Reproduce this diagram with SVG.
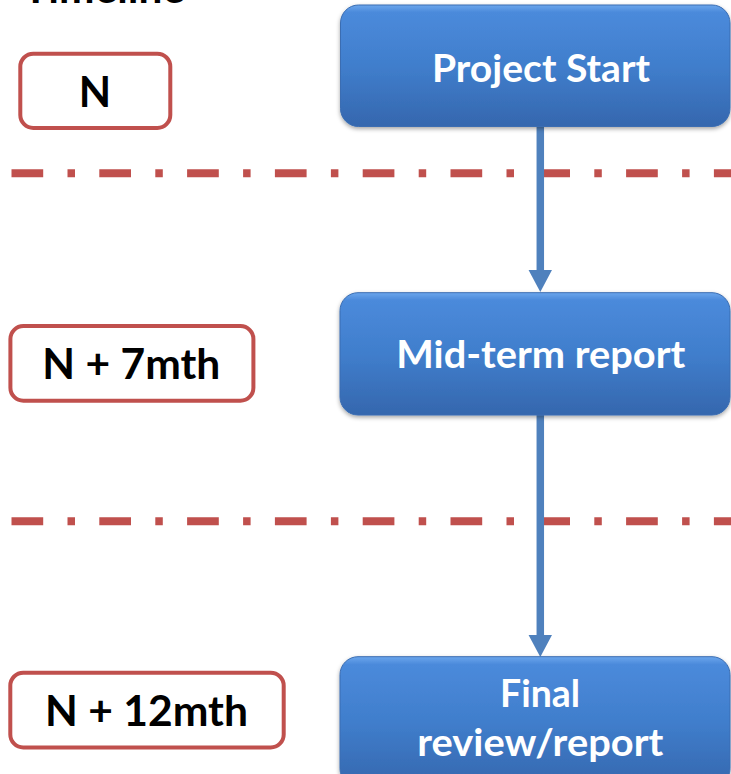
<svg xmlns="http://www.w3.org/2000/svg" width="731" height="774" viewBox="0 0 731 774">
<defs>
<linearGradient id="blueGrad" x1="0" y1="0" x2="0" y2="1">
<stop offset="0" stop-color="#6BA6EC"/>
<stop offset="0.06" stop-color="#4B8ADB"/>
<stop offset="0.5" stop-color="#407ECC"/>
<stop offset="1" stop-color="#3567AE"/>
</linearGradient>
<filter id="shadow" x="-10%" y="-10%" width="120%" height="130%">
<feDropShadow dx="0" dy="2" stdDeviation="2" flood-color="#000" flood-opacity="0.35"/>
</filter>
<marker id="arrow" markerUnits="userSpaceOnUse" markerWidth="22" markerHeight="24" refX="2" refY="11.75" orient="auto">
<path d="M0,0 L22,11.75 L0,23.5 z" fill="#4F81BD"/>
</marker>
</defs>
<style>
.label rect{fill:#fff;stroke:#C0504D;stroke-width:4}
.label text{font-family:Lato,"Open Sans","Liberation Sans",sans-serif;font-weight:bold;font-size:42px;fill:#000;text-anchor:middle}
.step rect{fill:url(#blueGrad);stroke:#3A6DB2;stroke-width:1;filter:url(#shadow)}
.step text{font-family:Lato,"Open Sans","Liberation Sans",sans-serif;font-weight:bold;font-size:38.5px;fill:#fff;text-anchor:middle}
.divider{stroke:#C0504D;stroke-width:8;stroke-dasharray:31.7 24.3 7.5 24.3}
.conn{stroke:#4F81BD;stroke-width:7.5;fill:none;marker-end:url(#arrow)}
.title{font-family:Lato,"Open Sans","Liberation Sans",sans-serif;font-weight:bold;font-size:42px;fill:#000}
</style>

<text class="title" x="23" y="3" textLength="162" lengthAdjust="spacingAndGlyphs">Timeline</text>

<g id="dividers">
<line class="divider" x1="11.5" y1="173.3" x2="731" y2="173.3"/>
<line class="divider" x1="11.5" y1="521.3" x2="731" y2="521.3"/>
</g>

<g id="connectors">
<line class="conn" x1="540.3" y1="127" x2="540.3" y2="272"/>
<line class="conn" x1="540.3" y1="415" x2="540.3" y2="637"/>
</g>

<g id="label-n" class="label">
<rect x="20.3" y="53.7" width="150" height="74.3" rx="13"/>
<text x="95" y="107">N</text>
</g>

<g id="label-n7" class="label">
<rect x="10.4" y="326" width="243" height="74.7" rx="13"/>
<text x="131.3" y="379.3" textLength="178" lengthAdjust="spacingAndGlyphs">N + 7mth</text>
</g>

<g id="label-n12" class="label">
<rect x="10.3" y="672.7" width="273.4" height="74.7" rx="13"/>
<text x="146.5" y="726" textLength="203" lengthAdjust="spacingAndGlyphs">N + 12mth</text>
</g>

<g id="project-start" class="step">
<rect x="340.5" y="5" width="389.5" height="121.5" rx="18"/>
<text x="541" y="81.7" textLength="218" lengthAdjust="spacingAndGlyphs">Project Start</text>
</g>

<g id="mid-term" class="step">
<rect x="340" y="292.7" width="390" height="122.3" rx="18"/>
<text x="540.8" y="368.3" textLength="289" lengthAdjust="spacingAndGlyphs">Mid-term report</text>
</g>

<g id="final" class="step">
<rect x="340" y="656.7" width="390" height="130" rx="18"/>
<text x="540" y="707.3" textLength="80" lengthAdjust="spacingAndGlyphs">Final</text>
<text x="540.3" y="756" textLength="246" lengthAdjust="spacingAndGlyphs">review/report</text>
</g>
</svg>
